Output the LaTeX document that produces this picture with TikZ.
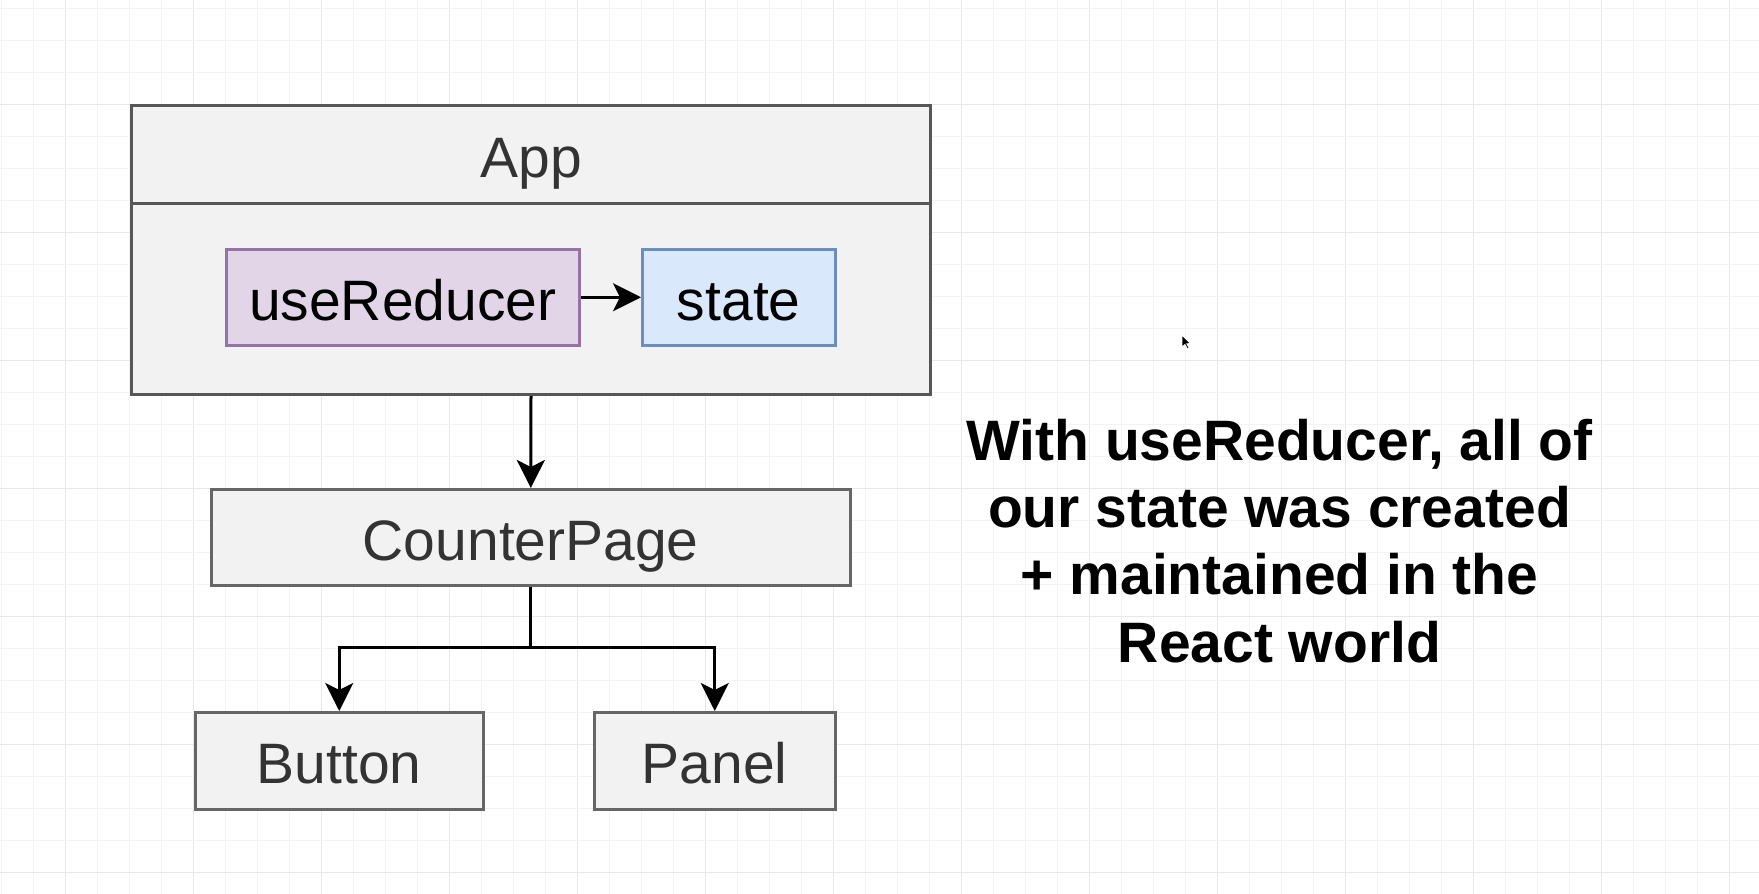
\documentclass[tikz,border=0pt]{standalone}
\usepackage{fontspec}
\setmainfont{Liberation Sans}
\usetikzlibrary{arrows.meta}
\definecolor{boxfill}{HTML}{F2F2F2}
\definecolor{boxline}{HTML}{666666}
\definecolor{boxtext}{HTML}{333333}
\definecolor{purfill}{HTML}{E1D5E7}
\definecolor{purline}{HTML}{9673A6}
\definecolor{bluefill}{HTML}{DAE8FC}
\definecolor{blueline}{HTML}{6C8EBF}
\definecolor{gridminor}{HTML}{F3F3F3}
\definecolor{gridmajor}{HTML}{E8E8E8}
\begin{document}
\begin{tikzpicture}[x=1pt,y=-1pt,
  comp/.style={draw=boxline, fill=boxfill, line width=2.5pt, text=boxtext, inner sep=0pt,
    font=\fontsize{57}{68}\selectfont, text height=46pt, text depth=0pt, anchor=north west},
  purbox/.style={comp, draw=purline, fill=purfill, text=black},
  bluebox/.style={comp, draw=blueline, fill=bluefill, text=black},
  arr/.style={-{Stealth[length=28pt,width=28pt,inset=7pt]}, line width=3pt, black},
  conn/.style={line width=3pt, black}
]
\fill[white] (0,0) rectangle (1759,894);
\useasboundingbox (0,0) rectangle (1759,894);
% grid
\foreach \k in {0,...,54}{
  \pgfmathtruncatemacro\m{mod(\k,4)}
  \ifnum\m=2 \def\gc{gridmajor}\else\def\gc{gridminor}\fi
  \draw[\gc, line width=1pt] ({1+32*\k},0) -- ({1+32*\k},894);
}
\foreach \k in {0,...,27}{
  \pgfmathtruncatemacro\m{mod(\k,4)}
  \ifnum\m=3 \def\gc{gridmajor}\else\def\gc{gridminor}\fi
  \draw[\gc, line width=1pt] (0,{8+32*\k}) -- (1759,{8+32*\k});
}
% App container
\node[comp, draw=boxline!85!black, line width=3pt, minimum width=799pt, minimum height=289pt] (app) at (130,104) {};
\node[comp, draw=boxline!85!black, line width=3pt, minimum width=799pt, minimum height=98pt] (apphead) at (130,104) {App};
% inner boxes
\node[purbox, minimum width=353pt, minimum height=96pt] (reducer) at (225,248) {useReducer};
\node[bluebox, minimum width=193pt, minimum height=96pt] (state) at (641,248) {state};
\draw[arr] (reducer.east) -- (state.west);
% children
\node[comp, minimum width=639pt, minimum height=96pt] (counter) at (210,488) {CounterPage};
\node[comp, minimum width=288pt, minimum height=97pt] (button) at (194,711) {Button};
\node[comp, minimum width=241pt, minimum height=97pt] (panel) at (593,711) {Panel};
\draw[arr] (app.south) -- (counter.north);
\coordinate (split) at (counter.south |- 0,647);
\draw[conn] (counter.south) -- (split);
\draw[arr] (split) -| (button.north);
\draw[arr] (split) -| (panel.north);
% note
\node[font=\bfseries\fontsize{57}{67.3}\selectfont, align=center, anchor=base, inner sep=0pt] (note) at (1279.5,662)
  {With useReducer, all of\\our state was created\\+ maintained in the\\React world};
% mouse cursor
\filldraw[fill=black, draw=white, line width=0.8pt] (1182,335) -- (1182,347) -- (1185,344.5) -- (1187.5,349) -- (1189.2,348.2) -- (1186.8,343.8) -- (1190.5,343.5) -- cycle;
\end{tikzpicture}
\end{document}
